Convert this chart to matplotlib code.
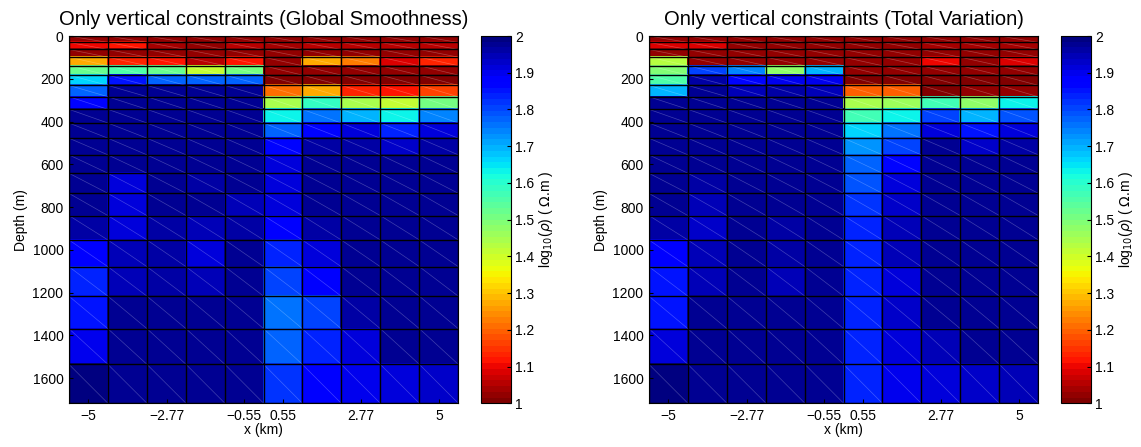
import numpy as np
import matplotlib
matplotlib.use("Agg")
from matplotlib import pyplot as plt
from matplotlib.collections import LineCollection

plt.rcParams['font.family'] = ['Liberation Sans', 'DejaVu Sans']

# cell centres along the profile (km) and layer boundaries (m)
x_centres = [-5, -3.89, -2.77, -1.66, -0.55, 0.55, 1.66, 2.77, 3.89, 5]
depth_edges = [0, 30, 63, 99, 139, 183, 231, 284, 343, 407, 478,
               556, 642, 736, 840, 954, 1079, 1217, 1369, 1536, 1718]
x_ticks = [-5, -2.77, -0.55, 0.55, 2.77, 5]
x_ticklabels = ['\u22125', '\u22122.77', '\u22120.55', '0.55', '2.77', '5']

# log10 resistivity, one row per layer
rho_gs = [
    [1.02, 1.03, 1.02, 1.02, 1.03, 1.02, 1.02, 1.03, 1.02, 1.02],
    [1.10, 1.11, 1.04, 1.03, 1.06, 1.04, 1.05, 1.06, 1.05, 1.06],
    [1.03, 1.03, 1.02, 1.02, 1.03, 1.02, 1.02, 1.03, 1.03, 1.02],
    [1.28, 1.14, 1.11, 1.05, 1.11, 1.02, 1.27, 1.23, 1.09, 1.14],
    [1.53, 1.56, 1.52, 1.42, 1.50, 1.02, 1.02, 1.02, 1.03, 1.03],
    [1.67, 1.85, 1.77, 1.77, 1.78, 1.01, 1.01, 1.01, 1.01, 1.01],
    [1.78, 1.97, 1.97, 1.97, 1.97, 1.21, 1.27, 1.13, 1.11, 1.17],
    [1.87, 1.97, 1.97, 1.97, 1.97, 1.45, 1.58, 1.44, 1.41, 1.50],
    [1.97, 1.97, 1.97, 1.97, 1.97, 1.64, 1.75, 1.70, 1.64, 1.74],
    [1.97, 1.97, 1.97, 1.97, 1.97, 1.77, 1.86, 1.92, 1.83, 1.91],
    [1.97, 1.97, 1.97, 1.97, 1.97, 1.86, 1.96, 1.96, 1.93, 1.96],
    [1.98, 1.97, 1.97, 1.97, 1.97, 1.91, 1.97, 1.97, 1.97, 1.97],
    [1.97, 1.92, 1.97, 1.96, 1.97, 1.92, 1.97, 1.97, 1.97, 1.97],
    [1.97, 1.91, 1.97, 1.97, 1.94, 1.92, 1.97, 1.97, 1.97, 1.97],
    [1.96, 1.92, 1.96, 1.95, 1.96, 1.88, 1.96, 1.97, 1.97, 1.97],
    [1.88, 1.94, 1.96, 1.92, 1.97, 1.84, 1.91, 1.98, 1.97, 1.97],
    [1.84, 1.95, 1.96, 1.94, 1.97, 1.80, 1.88, 1.97, 1.97, 1.97],
    [1.85, 1.98, 1.97, 1.97, 1.97, 1.75, 1.81, 1.96, 1.97, 1.97],
    [1.90, 1.97, 1.97, 1.97, 1.97, 1.77, 1.83, 1.92, 1.97, 1.97],
    [1.99, 1.98, 1.98, 1.98, 1.98, 1.82, 1.88, 1.90, 1.92, 1.93],
]

rho_tv = [
    [1.02, 1.03, 1.02, 1.02, 1.03, 1.02, 1.02, 1.03, 1.02, 1.02],
    [1.09, 1.09, 1.02, 1.02, 1.03, 1.02, 1.02, 1.04, 1.04, 1.04],
    [1.03, 1.03, 1.02, 1.02, 1.03, 1.02, 1.02, 1.03, 1.03, 1.02],
    [1.43, 1.03, 1.02, 1.02, 1.02, 1.02, 1.02, 1.10, 1.03, 1.09],
    [1.49, 1.80, 1.74, 1.48, 1.69, 1.02, 1.02, 1.02, 1.02, 1.02],
    [1.56, 1.96, 1.86, 1.90, 1.90, 1.01, 1.01, 1.01, 1.01, 1.01],
    [1.69, 1.97, 1.95, 1.96, 1.95, 1.20, 1.20, 1.01, 1.03, 1.02],
    [1.97, 1.97, 1.97, 1.97, 1.97, 1.44, 1.46, 1.57, 1.48, 1.64],
    [1.97, 1.97, 1.97, 1.97, 1.97, 1.57, 1.64, 1.80, 1.70, 1.79],
    [1.97, 1.97, 1.97, 1.97, 1.97, 1.67, 1.75, 1.92, 1.85, 1.91],
    [1.97, 1.97, 1.97, 1.97, 1.97, 1.73, 1.81, 1.97, 1.93, 1.96],
    [1.97, 1.97, 1.97, 1.97, 1.97, 1.78, 1.87, 1.97, 1.97, 1.97],
    [1.97, 1.96, 1.97, 1.97, 1.97, 1.79, 1.92, 1.97, 1.97, 1.97],
    [1.97, 1.94, 1.97, 1.97, 1.97, 1.82, 1.93, 1.97, 1.97, 1.97],
    [1.96, 1.93, 1.97, 1.96, 1.97, 1.83, 1.95, 1.97, 1.97, 1.97],
    [1.88, 1.94, 1.97, 1.96, 1.97, 1.83, 1.94, 1.97, 1.97, 1.97],
    [1.85, 1.95, 1.97, 1.95, 1.97, 1.83, 1.92, 1.97, 1.97, 1.97],
    [1.85, 1.97, 1.97, 1.97, 1.97, 1.83, 1.93, 1.97, 1.97, 1.97],
    [1.91, 1.97, 1.97, 1.97, 1.97, 1.83, 1.91, 1.95, 1.97, 1.97],
    [1.99, 1.98, 1.98, 1.98, 1.98, 1.83, 1.90, 1.91, 1.93, 1.94],
]

titles = ['Only vertical constraints (Global Smoothness)',
          'Only vertical constraints (Total Variation)']

xc = np.array(x_centres)
x_edges = np.concatenate([[xc[0] - (xc[1] - xc[0]) / 2],
                          (xc[:-1] + xc[1:]) / 2,
                          [xc[-1] + (xc[-1] - xc[-2]) / 2]])
z_edges = np.array(depth_edges, dtype=float)

cmap = plt.get_cmap('jet_r', 64)

fig = plt.figure(figsize=(11.41, 4.47), dpi=100)
ax_pos = [[69, 36, 389.3, 367.3], [649, 36, 389.3, 367.3]]
cb_pos = [[481, 36, 30, 367.3], [1061, 36, 30, 367.3]]
W, H = 1141., 447.

for k, data in enumerate([rho_gs, rho_tv]):
    l, t, w, h = ax_pos[k]
    ax = fig.add_axes([l / W, 1 - (t + h) / H, w / W, h / H])
    mesh = ax.pcolormesh(x_edges, z_edges, np.array(data), cmap=cmap,
                         vmin=1, vmax=2, edgecolors='face', linewidth=0.3)
    # faint diagonals across each cell
    segs = []
    for i in range(len(z_edges) - 1):
        for j in range(len(x_edges) - 1):
            segs.append([(x_edges[j], z_edges[i]), (x_edges[j + 1], z_edges[i + 1])])
    ax.add_collection(LineCollection(segs, colors='white', linewidths=0.5, alpha=0.25))
    # black cell borders
    ax.hlines(z_edges, x_edges[0], x_edges[-1], colors='k', linewidth=1.0)
    ax.vlines(x_edges, z_edges[0], z_edges[-1], colors='k', linewidth=1.0)
    ax.set_xlim(x_edges[0], x_edges[-1])
    ax.set_ylim(z_edges[-1], 0)
    ax.set_xticks(x_ticks)
    ax.set_xticklabels(x_ticklabels)
    ax.set_yticks(np.arange(0, 1601, 200))
    ax.tick_params(direction='in', length=3, labelsize=10, pad=4)
    ax.set_xlabel('x (km)', fontsize=10, labelpad=0)
    ax.set_ylabel('Depth (m)', fontsize=10, labelpad=3)
    ax.set_title(titles[k], fontsize=14.5, pad=8)

    l, t, w, h = cb_pos[k]
    cax = fig.add_axes([l / W, 1 - (t + h) / H, w / W, h / H])
    cb = fig.colorbar(mesh, cax=cax)
    cb.set_ticks(np.round(np.arange(1, 2.01, 0.1), 1))
    cb.set_ticklabels(['1', '1.1', '1.2', '1.3', '1.4', '1.5', '1.6', '1.7', '1.8', '1.9', '2'])
    cb.ax.tick_params(direction='in', length=3, labelsize=10, pad=3)
    cb.outline.set_linewidth(0.8)
    cb.set_label(r'log$_{10}$($\rho$) ( $\Omega$.m )', fontsize=10, labelpad=2)

fig.savefig('out.png', dpi=100)
